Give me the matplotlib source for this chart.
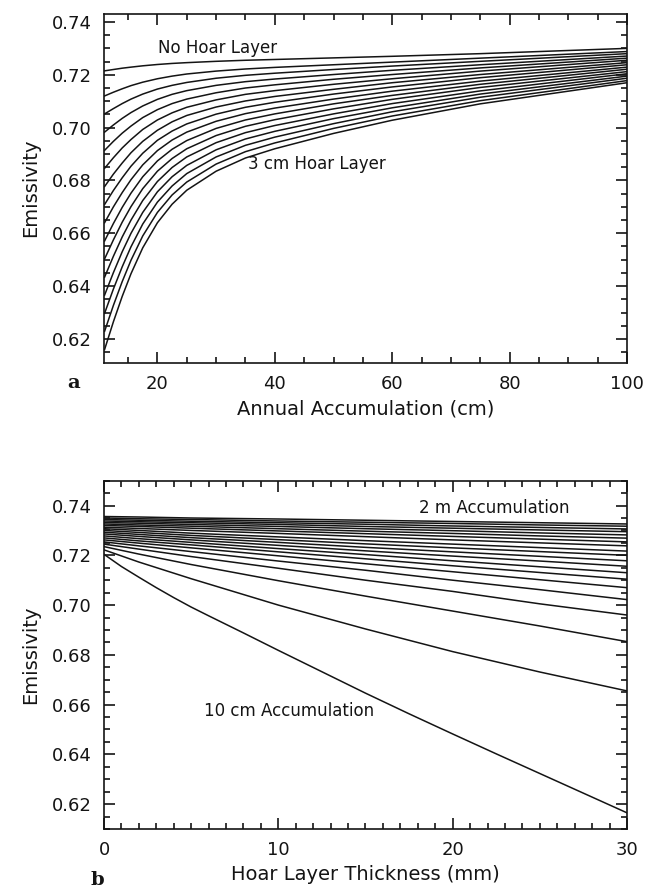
import numpy as np
import matplotlib
matplotlib.use('Agg')
import matplotlib.pyplot as plt
import matplotlib.ticker as ticker

# ---- panel a: emissivity vs annual accumulation, one curve per hoar thickness (0..3 cm)
acc_a = [11, 12.5, 14, 15.5, 17.5, 20, 22.5, 25, 30, 35, 40, 50, 60, 75, 100]  # cm
emis_a = [
    [.7215, .7220, .7225, .7229, .7234, .7239, .7243, .7246, .7251, .7255, .7258, .7264, .7270, .7280, .7300],
    [.7120, .7134, .7147, .7159, .7172, .7185, .7195, .7203, .7214, .7222, .7228, .7238, .7248, .7263, .7288],
    [.7052, .7072, .7091, .7108, .7127, .7146, .7160, .7171, .7187, .7198, .7206, .7220, .7233, .7251, .7280],
    [.6983, .7010, .7035, .7057, .7082, .7107, .7126, .7140, .7160, .7174, .7184, .7201, .7217, .7238, .7271],
    [.6914, .6948, .6979, .7006, .7038, .7068, .7091, .7108, .7132, .7150, .7162, .7183, .7201, .7226, .7263],
    [.6846, .6886, .6923, .6955, .6993, .7029, .7056, .7077, .7105, .7126, .7140, .7164, .7185, .7214, .7255],
    [.6777, .6824, .6866, .6905, .6948, .6990, .7022, .7046, .7078, .7101, .7118, .7145, .7170, .7201, .7246],
    [.6709, .6762, .6810, .6854, .6903, .6952, .6987, .7014, .7051, .7077, .7096, .7127, .7154, .7189, .7238],
    [.6640, .6700, .6754, .6803, .6859, .6913, .6953, .6983, .7024, .7053, .7074, .7108, .7138, .7176, .7229],
    [.6571, .6637, .6698, .6752, .6814, .6874, .6918, .6951, .6997, .7029, .7052, .7090, .7122, .7164, .7221],
    [.6503, .6575, .6642, .6701, .6769, .6835, .6883, .6920, .6970, .7005, .7030, .7071, .7107, .7152, .7212],
    [.6434, .6513, .6586, .6650, .6724, .6796, .6849, .6889, .6943, .6981, .7008, .7052, .7091, .7139, .7204],
    [.6366, .6451, .6530, .6600, .6679, .6757, .6814, .6857, .6916, .6957, .6986, .7034, .7075, .7127, .7195],
    [.6297, .6389, .6473, .6549, .6635, .6718, .6779, .6826, .6889, .6933, .6964, .7015, .7060, .7115, .7187],
    [.6229, .6327, .6417, .6498, .6590, .6679, .6745, .6794, .6862, .6909, .6942, .6997, .7044, .7102, .7178],
    [.6160, .6265, .6361, .6447, .6545, .6640, .6710, .6763, .6835, .6885, .6920, .6978, .7028, .7090, .7170],
]

# ---- panel b: emissivity vs hoar thickness, one curve per accumulation (10 cm .. 2 m)
hoar_10cm = [0, 1, 2, 3, 4, 5, 6, 8, 10, 12.5, 15, 17.5, 20, 22.5, 25, 27.5, 30]  # mm
emis_10cm = [.7204, .7155, .7112, .7070, .7030, .6992, .6957, .6888, .6818, .6732,
             .6646, .6563, .6482, .6402, .6323, .6244, .6165]
hoar_b = [0, 2, 5, 10, 15, 20, 25, 30]  # mm
emis_b = [
    [.7222, .7173, .7106, .7000, .6904, .6813, .6731, .6655],  # 20 cm
    [.7235, .7205, .7163, .7098, .7036, .6976, .6916, .6853],
    [.7245, .7225, .7195, .7148, .7100, .7055, .7005, .6960],
    [.7254, .7238, .7215, .7177, .7140, .7100, .7062, .7022],
    [.7262, .7249, .7230, .7198, .7166, .7134, .7102, .7070],
    [.7270, .7258, .7242, .7214, .7186, .7158, .7131, .7104],
    [.7278, .7267, .7252, .7227, .7203, .7178, .7154, .7130],
    [.7286, .7276, .7262, .7240, .7218, .7197, .7177, .7156],
    [.7293, .7284, .7271, .7252, .7232, .7214, .7196, .7178],
    [.7300, .7292, .7280, .7263, .7246, .7230, .7215, .7200],
    [.7307, .7300, .7289, .7274, .7259, .7245, .7231, .7217],
    [.7313, .7308, .7300, .7288, .7275, .7262, .7250, .7238],
    [.7320, .7316, .7309, .7298, .7287, .7276, .7265, .7254],
    [.7326, .7322, .7317, .7307, .7297, .7288, .7278, .7269],
    [.7332, .7329, .7324, .7316, .7307, .7299, .7290, .7282],
    [.7338, .7335, .7331, .7324, .7316, .7309, .7302, .7295],
    [.7344, .7341, .7337, .7331, .7325, .7318, .7312, .7306],
    [.7350, .7347, .7344, .7338, .7333, .7328, .7322, .7317],
    [.7356, .7354, .7350, .7346, .7341, .7336, .7331, .7326],  # 2 m
]

plt.rcParams['font.family'] = ['DejaVu Sans']
lc = '#141414'
bwidth = 1.2
lw = 1.1


def idl_axes(ax, xmaj, xmin, ymaj, ymin):
    ax.xaxis.set_major_locator(ticker.MultipleLocator(xmaj))
    ax.xaxis.set_minor_locator(ticker.MultipleLocator(xmin))
    ax.yaxis.set_major_locator(ticker.MultipleLocator(ymaj))
    ax.yaxis.set_minor_locator(ticker.MultipleLocator(ymin))
    ax.yaxis.set_major_formatter(ticker.FormatStrFormatter('%.2f'))
    ax.tick_params(which='both', direction='in', top=True, right=True,
                   width=bwidth, colors=lc, labelsize=13)
    ax.tick_params(which='major', length=8, pad=9)
    ax.tick_params(which='minor', length=4)
    for s in ax.spines.values():
        s.set_linewidth(bwidth)
        s.set_color(lc)
    ax.set_ylabel('Emissivity', fontsize=14, color=lc, labelpad=8)


fig = plt.figure(figsize=(6.57, 8.89), dpi=100)

# panel a
ax1 = fig.add_axes([0.1583, 0.5917, 0.796, 0.3931])
for row in emis_a:
    ax1.plot(acc_a, row, color=lc, lw=lw)
ax1.set_xlim(10.9, 100)
ax1.set_ylim(0.6109, 0.7432)
idl_axes(ax1, 20, 5, 0.02, 0.005)
ax1.set_xlabel('Annual Accumulation (cm)', fontsize=14, color=lc, labelpad=4)
ax1.text(20.1, 0.7300, 'No Hoar Layer', fontsize=12, color=lc, va='center')
ax1.text(35.4, 0.6862, '3 cm Hoar Layer', fontsize=12, color=lc, va='center')

# panel b
ax2 = fig.add_axes([0.1583, 0.0675, 0.796, 0.3918])
ax2.plot(hoar_10cm, emis_10cm, color=lc, lw=lw)
for row in emis_b:
    ax2.plot(hoar_b, row, color=lc, lw=lw)
ax2.set_xlim(0, 30)
ax2.set_ylim(0.61, 0.75)
idl_axes(ax2, 10, 1, 0.02, 0.005)
ax2.set_xlabel('Hoar Layer Thickness (mm)', fontsize=14, color=lc, labelpad=4)
ax2.text(22.4, 0.7390, '2 m Accumulation', fontsize=12, color=lc,
         ha='center', va='center')
ax2.text(10.6, 0.6575, '10 cm Accumulation', fontsize=12, color=lc,
         ha='center', va='center')

fig.text(0.103, 0.563, 'a', fontsize=14, fontweight='bold', family='DejaVu Serif',
         color=lc)
fig.text(0.137, 0.004, 'b', fontsize=14, fontweight='bold', family='DejaVu Serif',
         color=lc)

fig.savefig('out.png', dpi=100, facecolor='white')
